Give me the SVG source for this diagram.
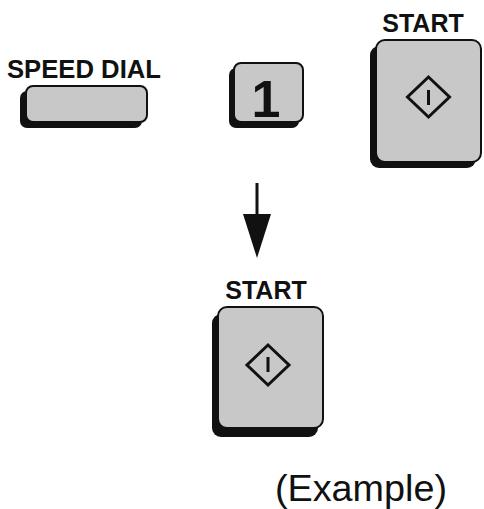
<svg xmlns="http://www.w3.org/2000/svg" width="484" height="509" viewBox="0 0 484 509">
<defs>
<style>
.lbl{font-family:"Liberation Sans",Arial,sans-serif;font-weight:bold;font-size:25px;fill:#111}
.shadow{fill:#111}
.face{fill:#c8c8c8;stroke:#111;stroke-width:2}
.sym{fill:none;stroke:#111;stroke-width:3;stroke-linejoin:miter}
</style>
</defs>
<rect width="484" height="509" fill="#fff"/>
<g id="speed-dial">
<text class="lbl" x="7" y="78" textLength="154" lengthAdjust="spacingAndGlyphs">SPEED DIAL</text>
<rect class="shadow" x="20" y="91" width="122" height="37" rx="7"/>
<rect class="face" x="26" y="86" width="121" height="36" rx="7"/>
</g>
<g id="key-1">
<rect class="shadow" x="229" y="68" width="70" height="60" rx="7"/>
<rect class="face" x="234" y="63" width="69" height="59" rx="7"/>
<text x="266" y="117" text-anchor="middle" font-family="Liberation Sans,Arial,sans-serif" font-weight="bold" font-size="52" fill="#111">1</text>
</g>
<g id="start-top">
<text class="lbl" x="423" y="32" text-anchor="middle">START</text>
<rect class="shadow" x="370" y="46" width="106" height="122" rx="9"/>
<rect class="face" x="376" y="40" width="105" height="122" rx="9"/>
<path class="sym" d="M428.5,77 L449.5,97 L428.5,117 L407.5,97 Z"/>
<line class="sym" x1="428.5" y1="90" x2="428.5" y2="105" stroke-width="3.5"/>
</g>
<g id="start-bottom">
<text class="lbl" x="266" y="299" text-anchor="middle">START</text>
<rect class="shadow" x="212" y="314" width="106" height="123" rx="9"/>
<rect class="face" x="218" y="307" width="105" height="121" rx="9"/>
<path class="sym" d="M268,345 L289,365 L268,385 L247,365 Z"/>
<line class="sym" x1="268" y1="357" x2="268" y2="372" stroke-width="3.5"/>
</g>
<g id="connectors">
<line x1="257" y1="183" x2="257" y2="216" stroke="#111" stroke-width="3"/>
<path d="M243,214 L271,214 L257,258 Z" fill="#111"/>
</g>
<text x="275" y="501" font-family="Liberation Sans,Arial,sans-serif" font-size="37" fill="#111" textLength="172" lengthAdjust="spacingAndGlyphs">(Example)</text>
</svg>
